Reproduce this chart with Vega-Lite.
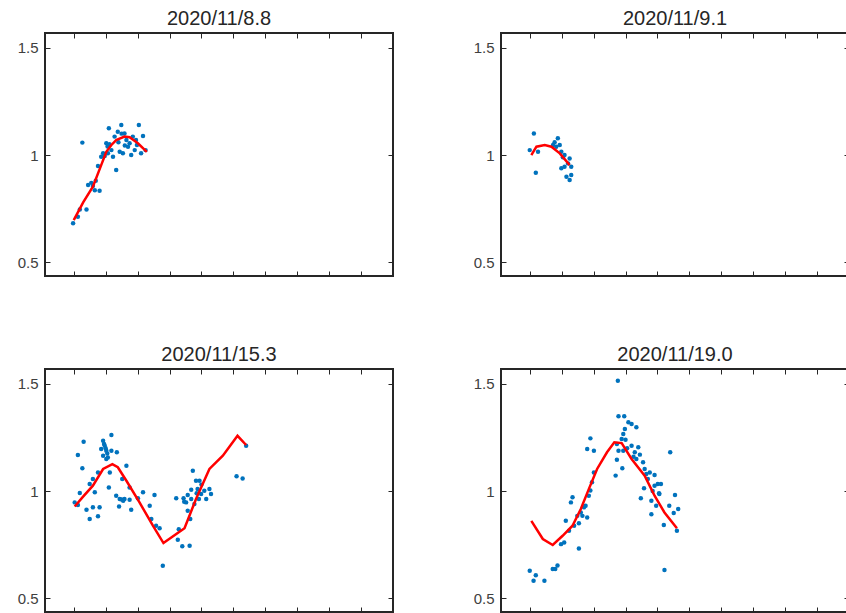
{
  "$schema": "https://vega.github.io/schema/vega-lite/v6.json",
  "padding": {"left": 16, "top": 7, "right": 0, "bottom": 0},
  "bounds": "flush",
  "columns": 2,
  "spacing": {"row": 93, "column": 108},
  "datasets": {
    "points": [
      {"panel": "2020/11/8.8", "x": 0.98, "y": 0.681}, {"panel": "2020/11/8.8", "x": 1.13, "y": 0.712}, {"panel": "2020/11/8.8", "x": 1.19, "y": 0.746}, {"panel": "2020/11/8.8", "x": 1.40, "y": 0.746},
      {"panel": "2020/11/8.8", "x": 1.27, "y": 1.058}, {"panel": "2020/11/8.8", "x": 1.45, "y": 0.860}, {"panel": "2020/11/8.8", "x": 1.60, "y": 0.855}, {"panel": "2020/11/8.8", "x": 1.66, "y": 0.836},
      {"panel": "2020/11/8.8", "x": 1.81, "y": 0.833}, {"panel": "2020/11/8.8", "x": 1.69, "y": 0.880}, {"panel": "2020/11/8.8", "x": 1.76, "y": 0.949}, {"panel": "2020/11/8.8", "x": 1.86, "y": 0.992},
      {"panel": "2020/11/8.8", "x": 1.97, "y": 0.995}, {"panel": "2020/11/8.8", "x": 1.92, "y": 1.008}, {"panel": "2020/11/8.8", "x": 2.02, "y": 1.055}, {"panel": "2020/11/8.8", "x": 2.12, "y": 1.050},
      {"panel": "2020/11/8.8", "x": 2.10, "y": 1.125}, {"panel": "2020/11/8.8", "x": 2.23, "y": 0.992}, {"panel": "2020/11/8.8", "x": 2.33, "y": 0.930}, {"panel": "2020/11/8.8", "x": 2.28, "y": 1.086},
      {"panel": "2020/11/8.8", "x": 2.38, "y": 1.109}, {"panel": "2020/11/8.8", "x": 2.49, "y": 1.140}, {"panel": "2020/11/8.8", "x": 2.44, "y": 1.015}, {"panel": "2020/11/8.8", "x": 2.54, "y": 1.008},
      {"panel": "2020/11/8.8", "x": 2.59, "y": 1.101}, {"panel": "2020/11/8.8", "x": 2.65, "y": 1.070}, {"panel": "2020/11/8.8", "x": 2.75, "y": 1.055}, {"panel": "2020/11/8.8", "x": 2.80, "y": 1.000},
      {"panel": "2020/11/8.8", "x": 2.85, "y": 1.086}, {"panel": "2020/11/8.8", "x": 3.04, "y": 1.140}, {"panel": "2020/11/8.8", "x": 2.98, "y": 1.047}, {"panel": "2020/11/8.8", "x": 3.17, "y": 1.089},
      {"panel": "2020/11/8.8", "x": 3.11, "y": 1.008}, {"panel": "2020/11/8.8", "x": 3.25, "y": 1.023}, {"panel": "2020/11/8.8", "x": 2.07, "y": 1.008}, {"panel": "2020/11/8.8", "x": 2.18, "y": 1.023},
      {"panel": "2020/11/8.8", "x": 2.70, "y": 1.039}, {"panel": "2020/11/8.8", "x": 2.91, "y": 1.023}, {"panel": "2020/11/8.8", "x": 1.55, "y": 0.870}, {"panel": "2020/11/8.8", "x": 2.40, "y": 1.060},
      {"panel": "2020/11/8.8", "x": 2.60, "y": 1.045}, {"panel": "2020/11/8.8", "x": 2.95, "y": 1.070}, {"panel": "2020/11/8.8", "x": 2.06, "y": 1.040}, {"panel": "2020/11/8.8", "x": 2.50, "y": 1.100},

      {"panel": "2020/11/9.1", "x": 1.13, "y": 1.101}, {"panel": "2020/11/9.1", "x": 1.00, "y": 1.023}, {"panel": "2020/11/9.1", "x": 1.26, "y": 1.015}, {"panel": "2020/11/9.1", "x": 1.19, "y": 0.917},
      {"panel": "2020/11/9.1", "x": 1.88, "y": 1.078}, {"panel": "2020/11/9.1", "x": 1.73, "y": 1.047}, {"panel": "2020/11/9.1", "x": 1.83, "y": 1.039}, {"panel": "2020/11/9.1", "x": 1.94, "y": 1.047},
      {"panel": "2020/11/9.1", "x": 1.99, "y": 1.015}, {"panel": "2020/11/9.1", "x": 2.09, "y": 1.000}, {"panel": "2020/11/9.1", "x": 2.25, "y": 0.984}, {"panel": "2020/11/9.1", "x": 2.20, "y": 0.961},
      {"panel": "2020/11/9.1", "x": 1.99, "y": 0.938}, {"panel": "2020/11/9.1", "x": 2.09, "y": 0.945}, {"panel": "2020/11/9.1", "x": 2.30, "y": 0.945}, {"panel": "2020/11/9.1", "x": 2.15, "y": 0.899},
      {"panel": "2020/11/9.1", "x": 2.25, "y": 0.883}, {"panel": "2020/11/9.1", "x": 2.30, "y": 0.907}, {"panel": "2020/11/9.1", "x": 1.78, "y": 1.060}, {"panel": "2020/11/9.1", "x": 2.04, "y": 0.990},

      {"panel": "2020/11/15.3", "x": 1.03, "y": 0.947}, {"panel": "2020/11/15.3", "x": 1.13, "y": 0.935}, {"panel": "2020/11/15.3", "x": 1.19, "y": 0.991}, {"panel": "2020/11/15.3", "x": 1.31, "y": 1.230},
      {"panel": "2020/11/15.3", "x": 1.13, "y": 1.168}, {"panel": "2020/11/15.3", "x": 1.27, "y": 1.106}, {"panel": "2020/11/15.3", "x": 1.40, "y": 0.913}, {"panel": "2020/11/15.3", "x": 1.50, "y": 0.869},
      {"panel": "2020/11/15.3", "x": 1.60, "y": 0.924}, {"panel": "2020/11/15.3", "x": 1.76, "y": 0.882}, {"panel": "2020/11/15.3", "x": 1.81, "y": 0.924}, {"panel": "2020/11/15.3", "x": 1.50, "y": 1.033},
      {"panel": "2020/11/15.3", "x": 1.66, "y": 0.994}, {"panel": "2020/11/15.3", "x": 1.60, "y": 1.056}, {"panel": "2020/11/15.3", "x": 1.76, "y": 1.087}, {"panel": "2020/11/15.3", "x": 1.92, "y": 1.235},
      {"panel": "2020/11/15.3", "x": 1.86, "y": 1.196}, {"panel": "2020/11/15.3", "x": 1.97, "y": 1.212}, {"panel": "2020/11/15.3", "x": 2.02, "y": 1.188}, {"panel": "2020/11/15.3", "x": 2.18, "y": 1.262},
      {"panel": "2020/11/15.3", "x": 1.92, "y": 1.165}, {"panel": "2020/11/15.3", "x": 2.07, "y": 1.157}, {"panel": "2020/11/15.3", "x": 2.18, "y": 1.188}, {"panel": "2020/11/15.3", "x": 2.35, "y": 1.181},
      {"panel": "2020/11/15.3", "x": 2.13, "y": 1.087}, {"panel": "2020/11/15.3", "x": 2.02, "y": 1.150}, {"panel": "2020/11/15.3", "x": 2.10, "y": 1.017}, {"panel": "2020/11/15.3", "x": 2.33, "y": 0.978},
      {"panel": "2020/11/15.3", "x": 2.44, "y": 0.963}, {"panel": "2020/11/15.3", "x": 2.59, "y": 0.963}, {"panel": "2020/11/15.3", "x": 2.75, "y": 0.959}, {"panel": "2020/11/15.3", "x": 2.42, "y": 0.928},
      {"panel": "2020/11/15.3", "x": 2.65, "y": 1.118}, {"panel": "2020/11/15.3", "x": 2.52, "y": 1.056}, {"panel": "2020/11/15.3", "x": 2.75, "y": 1.017}, {"panel": "2020/11/15.3", "x": 2.80, "y": 0.913},
      {"panel": "2020/11/15.3", "x": 3.01, "y": 0.966}, {"panel": "2020/11/15.3", "x": 3.17, "y": 0.994}, {"panel": "2020/11/15.3", "x": 3.38, "y": 0.931}, {"panel": "2020/11/15.3", "x": 3.53, "y": 0.981},
      {"panel": "2020/11/15.3", "x": 3.43, "y": 0.869}, {"panel": "2020/11/15.3", "x": 3.58, "y": 0.838}, {"panel": "2020/11/15.3", "x": 3.69, "y": 0.826}, {"panel": "2020/11/15.3", "x": 3.79, "y": 0.651},
      {"panel": "2020/11/15.3", "x": 4.21, "y": 0.966}, {"panel": "2020/11/15.3", "x": 4.29, "y": 0.822}, {"panel": "2020/11/15.3", "x": 4.26, "y": 0.772}, {"panel": "2020/11/15.3", "x": 4.40, "y": 0.742},
      {"panel": "2020/11/15.3", "x": 4.63, "y": 0.744}, {"panel": "2020/11/15.3", "x": 4.44, "y": 0.966}, {"panel": "2020/11/15.3", "x": 4.52, "y": 0.947}, {"panel": "2020/11/15.3", "x": 4.57, "y": 0.981},
      {"panel": "2020/11/15.3", "x": 4.68, "y": 0.963}, {"panel": "2020/11/15.3", "x": 4.73, "y": 1.095}, {"panel": "2020/11/15.3", "x": 4.57, "y": 0.908}, {"panel": "2020/11/15.3", "x": 4.65, "y": 0.869},
      {"panel": "2020/11/15.3", "x": 4.78, "y": 0.939}, {"panel": "2020/11/15.3", "x": 4.83, "y": 1.048}, {"panel": "2020/11/15.3", "x": 4.94, "y": 1.048}, {"panel": "2020/11/15.3", "x": 4.88, "y": 1.009},
      {"panel": "2020/11/15.3", "x": 4.99, "y": 0.986}, {"panel": "2020/11/15.3", "x": 4.92, "y": 0.963}, {"panel": "2020/11/15.3", "x": 5.09, "y": 1.001}, {"panel": "2020/11/15.3", "x": 5.15, "y": 0.963},
      {"panel": "2020/11/15.3", "x": 5.25, "y": 1.009}, {"panel": "2020/11/15.3", "x": 5.30, "y": 0.986}, {"panel": "2020/11/15.3", "x": 4.68, "y": 1.006}, {"panel": "2020/11/15.3", "x": 6.10, "y": 1.069},
      {"panel": "2020/11/15.3", "x": 6.29, "y": 1.059}, {"panel": "2020/11/15.3", "x": 6.40, "y": 1.212}, {"panel": "2020/11/15.3", "x": 1.95, "y": 1.220}, {"panel": "2020/11/15.3", "x": 2.00, "y": 1.200},
      {"panel": "2020/11/15.3", "x": 2.50, "y": 0.960}, {"panel": "2020/11/15.3", "x": 2.55, "y": 0.955}, {"panel": "2020/11/15.3", "x": 4.85, "y": 0.990}, {"panel": "2020/11/15.3", "x": 5.00, "y": 1.030},
      {"panel": "2020/11/15.3", "x": 2.05, "y": 1.175}, {"panel": "2020/11/15.3", "x": 4.46, "y": 0.950},

      {"panel": "2020/11/19.0", "x": 3.76, "y": 1.515}, {"panel": "2020/11/19.0", "x": 3.78, "y": 1.349}, {"panel": "2020/11/19.0", "x": 3.96, "y": 1.349}, {"panel": "2020/11/19.0", "x": 4.09, "y": 1.321},
      {"panel": "2020/11/19.0", "x": 4.19, "y": 1.313}, {"panel": "2020/11/19.0", "x": 4.34, "y": 1.298}, {"panel": "2020/11/19.0", "x": 3.98, "y": 1.290}, {"panel": "2020/11/19.0", "x": 3.93, "y": 1.266},
      {"panel": "2020/11/19.0", "x": 3.88, "y": 1.243}, {"panel": "2020/11/19.0", "x": 2.90, "y": 1.246}, {"panel": "2020/11/19.0", "x": 2.80, "y": 1.196}, {"panel": "2020/11/19.0", "x": 3.01, "y": 1.188},
      {"panel": "2020/11/19.0", "x": 3.73, "y": 1.220}, {"panel": "2020/11/19.0", "x": 3.78, "y": 1.188}, {"panel": "2020/11/19.0", "x": 3.93, "y": 1.188}, {"panel": "2020/11/19.0", "x": 3.73, "y": 1.146},
      {"panel": "2020/11/19.0", "x": 3.90, "y": 1.106}, {"panel": "2020/11/19.0", "x": 3.69, "y": 1.072}, {"panel": "2020/11/19.0", "x": 4.19, "y": 1.212}, {"panel": "2020/11/19.0", "x": 4.40, "y": 1.204},
      {"panel": "2020/11/19.0", "x": 4.29, "y": 1.181}, {"panel": "2020/11/19.0", "x": 4.34, "y": 1.150}, {"panel": "2020/11/19.0", "x": 4.55, "y": 1.134}, {"panel": "2020/11/19.0", "x": 4.60, "y": 1.103},
      {"panel": "2020/11/19.0", "x": 4.76, "y": 1.087}, {"panel": "2020/11/19.0", "x": 4.91, "y": 1.075}, {"panel": "2020/11/19.0", "x": 4.70, "y": 1.056}, {"panel": "2020/11/19.0", "x": 5.01, "y": 1.033},
      {"panel": "2020/11/19.0", "x": 5.11, "y": 1.033}, {"panel": "2020/11/19.0", "x": 4.91, "y": 1.025}, {"panel": "2020/11/19.0", "x": 4.58, "y": 1.013}, {"panel": "2020/11/19.0", "x": 5.06, "y": 0.986},
      {"panel": "2020/11/19.0", "x": 4.48, "y": 0.966}, {"panel": "2020/11/19.0", "x": 4.81, "y": 0.955}, {"panel": "2020/11/19.0", "x": 4.96, "y": 0.931}, {"panel": "2020/11/19.0", "x": 4.81, "y": 0.892},
      {"panel": "2020/11/19.0", "x": 5.37, "y": 0.931}, {"panel": "2020/11/19.0", "x": 5.55, "y": 0.981}, {"panel": "2020/11/19.0", "x": 5.65, "y": 0.916}, {"panel": "2020/11/19.0", "x": 5.51, "y": 0.897},
      {"panel": "2020/11/19.0", "x": 5.20, "y": 0.841}, {"panel": "2020/11/19.0", "x": 5.61, "y": 0.815}, {"panel": "2020/11/19.0", "x": 5.40, "y": 1.181}, {"panel": "2020/11/19.0", "x": 5.22, "y": 0.631},
      {"panel": "2020/11/19.0", "x": 2.34, "y": 0.971}, {"panel": "2020/11/19.0", "x": 2.29, "y": 0.947}, {"panel": "2020/11/19.0", "x": 2.85, "y": 0.978}, {"panel": "2020/11/19.0", "x": 2.75, "y": 0.931},
      {"panel": "2020/11/19.0", "x": 2.65, "y": 0.884}, {"panel": "2020/11/19.0", "x": 2.80, "y": 0.876}, {"panel": "2020/11/19.0", "x": 2.49, "y": 0.884}, {"panel": "2020/11/19.0", "x": 2.54, "y": 0.850},
      {"panel": "2020/11/19.0", "x": 2.39, "y": 0.838}, {"panel": "2020/11/19.0", "x": 2.13, "y": 0.861}, {"panel": "2020/11/19.0", "x": 2.23, "y": 0.814}, {"panel": "2020/11/19.0", "x": 2.08, "y": 0.760},
      {"panel": "2020/11/19.0", "x": 1.98, "y": 0.752}, {"panel": "2020/11/19.0", "x": 2.54, "y": 0.732}, {"panel": "2020/11/19.0", "x": 3.01, "y": 1.087}, {"panel": "2020/11/19.0", "x": 2.95, "y": 1.041},
      {"panel": "2020/11/19.0", "x": 2.90, "y": 1.002}, {"panel": "2020/11/19.0", "x": 2.70, "y": 0.924}, {"panel": "2020/11/19.0", "x": 1.72, "y": 0.636}, {"panel": "2020/11/19.0", "x": 1.87, "y": 0.652},
      {"panel": "2020/11/19.0", "x": 1.80, "y": 0.636}, {"panel": "2020/11/19.0", "x": 1.00, "y": 0.628}, {"panel": "2020/11/19.0", "x": 1.19, "y": 0.607}, {"panel": "2020/11/19.0", "x": 1.12, "y": 0.581},
      {"panel": "2020/11/19.0", "x": 1.46, "y": 0.581}, {"panel": "2020/11/19.0", "x": 4.00, "y": 1.240}, {"panel": "2020/11/19.0", "x": 4.05, "y": 1.200}, {"panel": "2020/11/19.0", "x": 4.45, "y": 1.170},
      {"panel": "2020/11/19.0", "x": 4.65, "y": 1.080}, {"panel": "2020/11/19.0", "x": 5.05, "y": 0.990}, {"panel": "2020/11/19.0", "x": 2.60, "y": 0.900}, {"panel": "2020/11/19.0", "x": 4.25, "y": 1.160},
      {"panel": "2020/11/19.0", "x": 4.85, "y": 1.000}
    ],
    "fit": [
      {"panel": "2020/11/8.8", "x": 1.00, "y": 0.696}, {"panel": "2020/11/8.8", "x": 1.30, "y": 0.780}, {"panel": "2020/11/8.8", "x": 1.60, "y": 0.852}, {"panel": "2020/11/8.8", "x": 1.86, "y": 0.953},
      {"panel": "2020/11/8.8", "x": 2.02, "y": 1.015}, {"panel": "2020/11/8.8", "x": 2.18, "y": 1.047}, {"panel": "2020/11/8.8", "x": 2.33, "y": 1.070}, {"panel": "2020/11/8.8", "x": 2.59, "y": 1.086},
      {"panel": "2020/11/8.8", "x": 2.75, "y": 1.083}, {"panel": "2020/11/8.8", "x": 3.01, "y": 1.055}, {"panel": "2020/11/8.8", "x": 3.29, "y": 1.015},

      {"panel": "2020/11/9.1", "x": 1.05, "y": 1.000}, {"panel": "2020/11/9.1", "x": 1.21, "y": 1.039}, {"panel": "2020/11/9.1", "x": 1.47, "y": 1.047}, {"panel": "2020/11/9.1", "x": 1.68, "y": 1.039},
      {"panel": "2020/11/9.1", "x": 1.94, "y": 1.008}, {"panel": "2020/11/9.1", "x": 2.10, "y": 0.980}, {"panel": "2020/11/9.1", "x": 2.25, "y": 0.953},

      {"panel": "2020/11/15.3", "x": 1.03, "y": 0.928}, {"panel": "2020/11/15.3", "x": 1.30, "y": 0.975}, {"panel": "2020/11/15.3", "x": 1.60, "y": 1.025}, {"panel": "2020/11/15.3", "x": 1.92, "y": 1.103},
      {"panel": "2020/11/15.3", "x": 2.21, "y": 1.126}, {"panel": "2020/11/15.3", "x": 2.38, "y": 1.111}, {"panel": "2020/11/15.3", "x": 2.65, "y": 1.048}, {"panel": "2020/11/15.3", "x": 3.06, "y": 0.947},
      {"panel": "2020/11/15.3", "x": 3.48, "y": 0.838}, {"panel": "2020/11/15.3", "x": 3.81, "y": 0.757}, {"panel": "2020/11/15.3", "x": 4.10, "y": 0.788}, {"panel": "2020/11/15.3", "x": 4.47, "y": 0.826},
      {"panel": "2020/11/15.3", "x": 4.83, "y": 0.963}, {"panel": "2020/11/15.3", "x": 5.25, "y": 1.103}, {"panel": "2020/11/15.3", "x": 5.67, "y": 1.165}, {"panel": "2020/11/15.3", "x": 6.13, "y": 1.258},
      {"panel": "2020/11/15.3", "x": 6.40, "y": 1.215},

      {"panel": "2020/11/19.0", "x": 1.05, "y": 0.861}, {"panel": "2020/11/19.0", "x": 1.41, "y": 0.776}, {"panel": "2020/11/19.0", "x": 1.72, "y": 0.748}, {"panel": "2020/11/19.0", "x": 2.03, "y": 0.791},
      {"panel": "2020/11/19.0", "x": 2.34, "y": 0.838}, {"panel": "2020/11/19.0", "x": 2.60, "y": 0.916}, {"panel": "2020/11/19.0", "x": 2.85, "y": 1.009}, {"panel": "2020/11/19.0", "x": 3.11, "y": 1.103},
      {"panel": "2020/11/19.0", "x": 3.42, "y": 1.181}, {"panel": "2020/11/19.0", "x": 3.65, "y": 1.228}, {"panel": "2020/11/19.0", "x": 3.88, "y": 1.224}, {"panel": "2020/11/19.0", "x": 4.19, "y": 1.150},
      {"panel": "2020/11/19.0", "x": 4.60, "y": 1.072}, {"panel": "2020/11/19.0", "x": 4.91, "y": 0.978}, {"panel": "2020/11/19.0", "x": 5.22, "y": 0.900}, {"panel": "2020/11/19.0", "x": 5.61, "y": 0.826}
    ]
  },
  "concat": [
    {
      "title": {"text": "2020/11/8.8", "anchor": "middle", "frame": "group"},
      "width": 348, "height": 243,
      "layer": [
        {"data": {"name": "points"}, "transform": [{"filter": "datum.panel === '2020/11/8.8'"}],
         "mark": {"type": "circle", "size": 20, "color": "#0072BD", "opacity": 1},
         "encoding": {
           "x": {"field": "x", "type": "quantitative", "scale": {"domain": [0.1, 11], "nice": false, "zero": false}, "title": null, "axis": {"orient": "bottom", "values": [1,2,3,4,5,6,7,8,9,10], "labels": false}},
           "y": {"field": "y", "type": "quantitative", "scale": {"domain": [0.435, 1.57], "nice": false, "zero": false}, "title": null, "axis": {"orient": "left", "values": [0.5, 1, 1.5], "labelExpr": "'' + datum.value", "labelPadding": 12}}}},
        {"data": {"name": "fit"}, "transform": [{"filter": "datum.panel === '2020/11/8.8'"}],
         "mark": {"type": "line", "color": "#FF0000", "strokeWidth": 2.5},
         "encoding": {
           "x": {"field": "x", "type": "quantitative", "title": null, "axis": {"orient": "top", "values": [1,2,3,4,5,6,7,8,9,10], "labels": false}},
           "y": {"field": "y", "type": "quantitative", "title": null, "axis": {"orient": "right", "values": [0.5, 1, 1.5], "labels": false}}}}
      ],
      "resolve": {"axis": {"x": "independent", "y": "independent"}}
    },
    {
      "title": {"text": "2020/11/9.1", "anchor": "middle", "frame": "group"},
      "width": 348, "height": 243,
      "layer": [
        {"data": {"name": "points"}, "transform": [{"filter": "datum.panel === '2020/11/9.1'"}],
         "mark": {"type": "circle", "size": 20, "color": "#0072BD", "opacity": 1},
         "encoding": {
           "x": {"field": "x", "type": "quantitative", "scale": {"domain": [0.1, 11], "nice": false, "zero": false}, "title": null, "axis": {"orient": "bottom", "values": [1,2,3,4,5,6,7,8,9,10], "labels": false}},
           "y": {"field": "y", "type": "quantitative", "scale": {"domain": [0.435, 1.57], "nice": false, "zero": false}, "title": null, "axis": {"orient": "left", "values": [0.5, 1, 1.5], "labelExpr": "'' + datum.value", "labelPadding": 12}}}},
        {"data": {"name": "fit"}, "transform": [{"filter": "datum.panel === '2020/11/9.1'"}],
         "mark": {"type": "line", "color": "#FF0000", "strokeWidth": 2.5},
         "encoding": {
           "x": {"field": "x", "type": "quantitative", "title": null, "axis": {"orient": "top", "values": [1,2,3,4,5,6,7,8,9,10], "labels": false}},
           "y": {"field": "y", "type": "quantitative", "title": null, "axis": {"orient": "right", "values": [0.5, 1, 1.5], "labels": false}}}}
      ],
      "resolve": {"axis": {"x": "independent", "y": "independent"}}
    },
    {
      "title": {"text": "2020/11/15.3", "anchor": "middle", "frame": "group"},
      "width": 348, "height": 243,
      "layer": [
        {"data": {"name": "points"}, "transform": [{"filter": "datum.panel === '2020/11/15.3'"}],
         "mark": {"type": "circle", "size": 20, "color": "#0072BD", "opacity": 1},
         "encoding": {
           "x": {"field": "x", "type": "quantitative", "scale": {"domain": [0.1, 11], "nice": false, "zero": false}, "title": null, "axis": {"orient": "bottom", "values": [1,2,3,4,5,6,7,8,9,10], "labels": false}},
           "y": {"field": "y", "type": "quantitative", "scale": {"domain": [0.435, 1.57], "nice": false, "zero": false}, "title": null, "axis": {"orient": "left", "values": [0.5, 1, 1.5], "labelExpr": "'' + datum.value", "labelPadding": 12}}}},
        {"data": {"name": "fit"}, "transform": [{"filter": "datum.panel === '2020/11/15.3'"}],
         "mark": {"type": "line", "color": "#FF0000", "strokeWidth": 2.5},
         "encoding": {
           "x": {"field": "x", "type": "quantitative", "title": null, "axis": {"orient": "top", "values": [1,2,3,4,5,6,7,8,9,10], "labels": false}},
           "y": {"field": "y", "type": "quantitative", "title": null, "axis": {"orient": "right", "values": [0.5, 1, 1.5], "labels": false}}}}
      ],
      "resolve": {"axis": {"x": "independent", "y": "independent"}}
    },
    {
      "title": {"text": "2020/11/19.0", "anchor": "middle", "frame": "group"},
      "width": 348, "height": 243,
      "layer": [
        {"data": {"name": "points"}, "transform": [{"filter": "datum.panel === '2020/11/19.0'"}],
         "mark": {"type": "circle", "size": 20, "color": "#0072BD", "opacity": 1},
         "encoding": {
           "x": {"field": "x", "type": "quantitative", "scale": {"domain": [0.1, 11], "nice": false, "zero": false}, "title": null, "axis": {"orient": "bottom", "values": [1,2,3,4,5,6,7,8,9,10], "labels": false}},
           "y": {"field": "y", "type": "quantitative", "scale": {"domain": [0.435, 1.57], "nice": false, "zero": false}, "title": null, "axis": {"orient": "left", "values": [0.5, 1, 1.5], "labelExpr": "'' + datum.value", "labelPadding": 12}}}},
        {"data": {"name": "fit"}, "transform": [{"filter": "datum.panel === '2020/11/19.0'"}],
         "mark": {"type": "line", "color": "#FF0000", "strokeWidth": 2.5},
         "encoding": {
           "x": {"field": "x", "type": "quantitative", "title": null, "axis": {"orient": "top", "values": [1,2,3,4,5,6,7,8,9,10], "labels": false}},
           "y": {"field": "y", "type": "quantitative", "title": null, "axis": {"orient": "right", "values": [0.5, 1, 1.5], "labels": false}}}}
      ],
      "resolve": {"axis": {"x": "independent", "y": "independent"}}
    }
  ],
  "config": {
    "font": "Liberation Sans",
    "background": "white",
    "view": {"stroke": "#262626", "strokeWidth": 2},
    "axis": {"domain": false, "grid": false, "ticks": true, "tickColor": "#262626", "tickSize": -5, "tickWidth": 1,
             "labelFont": "Liberation Sans", "labelFontSize": 15, "labelColor": "#404040"},
    "title": {"font": "Liberation Sans", "fontSize": 20, "fontWeight": "normal", "color": "#262626", "offset": 4}
  }
}
